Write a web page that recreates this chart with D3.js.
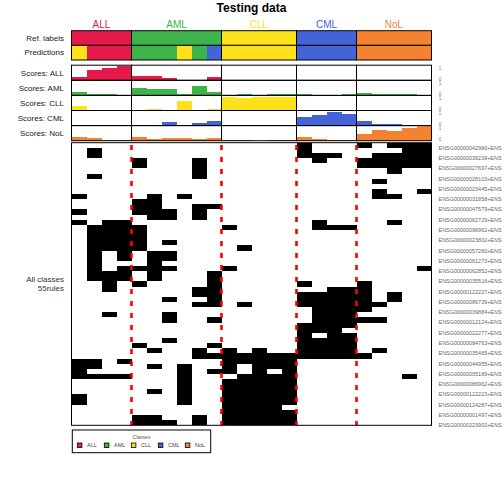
<!DOCTYPE html>
<html>
<head>
<meta charset="utf-8">
<script src="https://cdn.jsdelivr.net/npm/d3@7"></script>
<style>
  body { margin: 0; background: #fff; }
  svg text { font-family: "Liberation Sans", Arial, sans-serif; }
</style>
</head>
<body>
<div id="chart"></div>
<script>
// classes and colours
const classes = ["ALL", "AML", "CLL", "CML", "NoL"];
const classColors = ["#E6194B", "#3CB44B", "#FFE119", "#4363D8", "#F58231"];

// 24 test samples, in column order
const refLabels = ["ALL","ALL","ALL","ALL",
  "AML","AML","AML","AML","AML","AML",
  "CLL","CLL","CLL","CLL","CLL",
  "CML","CML","CML","CML",
  "NoL","NoL","NoL","NoL","NoL"];
const predictions = ["CLL","ALL","ALL","ALL",
  "AML","AML","AML","CLL","AML","CML",
  "CLL","CLL","CLL","CLL","CLL",
  "CML","CML","CML","CML",
  "NoL","NoL","NoL","NoL","NoL"];

// class scores per sample
const scoresALL = [0.2,0.67,0.8,0.96, 0.27,0.27,0.13,0,0,0.2, 0,0,0,0,0, 0,0.05,0,0, 0,0,0.05,0.05,0];
const scoresAML = [0.2,0.09,0.09,0, 0.47,0.4,0.4,0.09,0.6,0.2, 0,0.09,0,0.09,0.09, 0.09,0,0,0.09, 0.13,0.09,0.09,0.09,0];
const scoresCLL = [0.33,0,0,0, 0,0.13,0,0.6,0,0.07, 0.87,0.8,0.87,0.87,0.87, 0,0,0,0, 0,0,0,0,0];
const scoresCML = [0.07,0,0.07,0, 0,0,0.27,0,0.2,0.33, 0,0,0,0,0, 0.6,0.73,0.93,0.8, 0.33,0.13,0.13,0,0];
const scoresNoL = [0.24,0.18,0.05,0.05, 0.24,0.11,0.18,0.18,0.11,0.18, 0.05,0.05,0,0.05,0.05, 0.24,0.11,0.05,0.05, 0.44,0.71,0.64,0.84,0.98];

// rule activation: one string per rule, one char per sample (groups split by spaces)
const ruleRows = [
  "0000 000000 00000 1000 10111",
  "0100 000000 00000 1000 00011",
  "0100 000000 00000 1110 01111",
  "0000 100010 00000 0100 11111",
  "0000 100010 00000 0000 11111",
  "0000 000010 00000 0000 00100",
  "0100 000010 00000 0000 00000",
  "0000 000000 00000 0000 01000",
  "0000 000000 00000 0000 00000",
  "0000 000000 00000 0000 01001",
  "1000 010100 00000 0000 01100",
  "0000 110000 00000 0000 00000",
  "0000 110011 00000 0000 00000",
  "1000 111010 00000 0000 00000",
  "0000 011010 00000 0000 00000",
  "1011 000000 00000 0100 00100",
  "0111 100000 10000 0111 00000",
  "0111 100000 00000 0000 00000",
  "0111 100000 00000 0000 00000",
  "0111 101000 00000 0000 00000",
  "0111 100000 01000 0000 00000",
  "0101 011000 00000 0000 00000",
  "0101 011000 00000 0000 00000",
  "0100 010000 00000 0000 00000",
  "0101 111000 10000 0000 00001",
  "0111 010001 00000 0000 00000",
  "0111 010001 00000 0000 00000",
  "0010 100001 00000 1000 10000",
  "0010 000011 00000 0011 10000",
  "0000 000011 00000 1111 10100",
  "0000 001001 00000 1111 10100",
  "0000 000011 01000 1111 11000",
  "0000 000000 00000 0111 10000",
  "0010 001000 00000 0111 00000",
  "0000 001001 00000 0111 11000",
  "0000 000000 00000 1111 00000",
  "0000 000000 00000 1110 00000",
  "0000 000000 00000 1011 00000",
  "0000 001000 00000 1111 00000",
  "0000 100001 00000 1111 00000",
  "0000 010010 10100 1111 01000",
  "0000 000011 11111 1111 10000",
  "1101 000000 11111 0000 00000",
  "1100 010100 10111 0000 00000",
  "1000 000101 10101 0000 00000",
  "1111 000100 01111 0000 00010",
  "0000 000100 11111 0000 00000",
  "0000 000100 11111 0000 00000",
  "0000 010100 11111 0000 00000",
  "1000 000100 11111 0000 00000",
  "1000 000100 11111 0000 00000",
  "0000 000000 11110 0000 00000",
  "0000 000000 11111 0000 00000",
  "0000 110010 11111 0000 00000",
  "0000 111010 11111 0000 00000"
];

// row names (only every second rule is labelled)
const ruleLabels = [
  "ENSG00000042980+ENS", "ENSG00000039239+ENS", "ENSG00000027697+ENS", "ENSG00000028103+ENS",
  "ENSG00000023445+ENS", "ENSG00000031858+ENS", "ENSG00000047579+ENS", "ENSG00000062729+ENS",
  "ENSG00000096962+ENS", "ENSG00000023802+ENS", "ENSG00000057280+ENS", "ENSG00000061273+ENS",
  "ENSG00000062852+ENS", "ENSG00000035516+ENS", "ENSG00000122227+ENS", "ENSG00000086739+ENS",
  "ENSG00000039884+ENS", "ENSG00000012124+ENS", "ENSG00000022277+ENS", "ENSG00000084763+ENS",
  "ENSG00000035465+ENS", "ENSG00000044955+ENS", "ENSG00000005189+ENS", "ENSG00000086962+ENS",
  "ENSG00000122223+ENS", "ENSG00000124287+ENS", "ENSG00000001497+ENS", "ENSG00000223902+ENS"
];

const scorePanels = [
  {name: "Scores: ALL", values: scoresALL, color: classColors[0]},
  {name: "Scores: AML", values: scoresAML, color: classColors[1]},
  {name: "Scores: CLL", values: scoresCLL, color: classColors[2]},
  {name: "Scores: CML", values: scoresCML, color: classColors[3]},
  {name: "Scores: NoL", values: scoresNoL, color: classColors[4]}
];

const width = 504, height = 504;
const hmLeft = 71.5, hmRight = 431.5;
const refTop = 30.7, annH = 14.65;
const scoreTop = 65.2, scoreH = 15.1;
const hmTop = 142.7, hmBottom = 425.3;

const color = d3.scaleOrdinal().domain(classes).range(classColors);
const matrix = ruleRows.map(r => r.replace(/ /g, "").split("").map(Number));
const nSamples = refLabels.length;
const nRules = matrix.length;

const x = d3.scaleBand().domain(d3.range(nSamples)).range([hmLeft, hmRight]);
const yRow = d3.scaleLinear().domain([0, nRules]).range([hmTop, hmBottom]);

// group extents
const groups = classes.map(c => {
  const idx = d3.range(nSamples).filter(i => refLabels[i] === c);
  return {name: c, x0: x(d3.min(idx)), x1: x(d3.max(idx)) + x.bandwidth()};
});

const svg = d3.select("#chart").append("svg")
  .attr("width", width)
  .attr("height", height);

svg.append("rect").attr("width", width).attr("height", height).attr("fill", "#fff");

// title
svg.append("text")
  .attr("x", (hmLeft + hmRight) / 2)
  .attr("y", 11.8)
  .attr("text-anchor", "middle")
  .style("font-size", "12px")
  .style("font-weight", "bold")
  .text("Testing data");

// group titles
svg.selectAll(".gtitle").data(groups).enter().append("text")
  .attr("x", d => (d.x0 + d.x1) / 2)
  .attr("y", 28.3)
  .attr("text-anchor", "middle")
  .style("font-size", "10px")
  .attr("fill", d => color(d.name))
  .text(d => d.name);

// ref labels and predictions
[refLabels, predictions].forEach((row, r) => {
  const y0 = refTop + r * annH;
  svg.append("g").selectAll("rect").data(row).enter().append("rect")
    .attr("x", (d, i) => x(i))
    .attr("y", y0)
    .attr("width", x.bandwidth() + 0.3)
    .attr("height", annH)
    .attr("fill", d => color(d))
    .attr("shape-rendering", "crispEdges");
  svg.append("g").selectAll("rect").data(groups).enter().append("rect")
    .attr("x", d => d.x0)
    .attr("y", y0)
    .attr("width", d => d.x1 - d.x0)
    .attr("height", annH)
    .attr("fill", "none")
    .attr("stroke", "#000")
    .attr("stroke-width", 1);
});

const leftLabels = [
  {text: "Ref. labels", y: refTop + annH / 2},
  {text: "Predictions", y: refTop + annH * 1.5}
].concat(scorePanels.map((p, i) => ({text: p.name, y: scoreTop + scoreH * (i + 0.5)})));

svg.selectAll(".llab").data(leftLabels).enter().append("text")
  .attr("x", 64)
  .attr("y", d => d.y)
  .attr("dy", "0.35em")
  .attr("text-anchor", "end")
  .style("font-size", "8px")
  .attr("fill", "#222")
  .text(d => d.text);

// score bar panels
scorePanels.forEach((p, i) => {
  const top = scoreTop + i * scoreH;
  const y = d3.scaleLinear().domain([0, 1]).range([top + scoreH, top]);
  const g = svg.append("g");
  g.selectAll("rect").data(p.values).enter().append("rect")
    .attr("x", (d, j) => x(j))
    .attr("y", d => y(d))
    .attr("width", x.bandwidth() + 0.3)
    .attr("height", d => y(0) - y(d))
    .attr("fill", p.color)
    .attr("shape-rendering", "crispEdges");
  g.selectAll(".box").data(groups).enter().append("rect")
    .attr("x", d => d.x0)
    .attr("y", top)
    .attr("width", d => d.x1 - d.x0)
    .attr("height", scoreH)
    .attr("fill", "none")
    .attr("stroke", "#000")
    .attr("stroke-width", 1);
  // tiny axis labels on the right
  g.append("text").attr("x", 440).attr("y", y(1) + 4.5)
    .attr("text-anchor", "middle").style("font-size", "4.5px").attr("fill", "#777").text("1");
  g.append("text").attr("x", 440).attr("y", y(0) + 0.5)
    .attr("text-anchor", "middle").style("font-size", "4.5px").attr("fill", "#777").text("0");
});

// heatmap cells
const cells = [];
matrix.forEach((row, r) => row.forEach((v, c) => { if (v) cells.push({r, c}); }));
svg.append("g").selectAll("rect").data(cells).enter().append("rect")
  .attr("x", d => x(d.c))
  .attr("y", d => yRow(d.r))
  .attr("width", x.bandwidth())
  .attr("height", yRow(1) - yRow(0))
  .attr("fill", "#000")
  .attr("shape-rendering", "crispEdges");

// red dashed separators between classes
svg.append("g").selectAll("line").data(groups.slice(1)).enter().append("line")
  .attr("x1", d => d.x0).attr("x2", d => d.x0)
  .attr("y1", hmTop + 2.3).attr("y2", hmBottom)
  .attr("stroke", "#FF0000")
  .attr("stroke-width", 2.6)
  .attr("stroke-dasharray", "5 7");

svg.append("rect")
  .attr("x", hmLeft).attr("y", hmTop)
  .attr("width", hmRight - hmLeft).attr("height", hmBottom - hmTop)
  .attr("fill", "none").attr("stroke", "#000").attr("stroke-width", 1);

// row labels
svg.append("g").selectAll("text").data(ruleLabels).enter().append("text")
  .attr("x", 438.5)
  .attr("y", (d, k) => yRow(2 * k + 1))
  .attr("dy", "0.35em")
  .style("font-size", "5.45px")
  .attr("fill", "#666")
  .text(d => d);

// row title
svg.append("text")
  .attr("x", 64).attr("y", (hmTop + hmBottom) / 2 - 4.5)
  .attr("dy", "0.35em").attr("text-anchor", "end")
  .style("font-size", "8px").attr("fill", "#333")
  .text("All classes");
svg.append("text")
  .attr("x", 64).attr("y", (hmTop + hmBottom) / 2 + 4.5)
  .attr("dy", "0.35em").attr("text-anchor", "end")
  .style("font-size", "8px").attr("fill", "#333")
  .text("55rules");

// legend
const legend = svg.append("g");
legend.append("rect")
  .attr("x", 72.3).attr("y", 430)
  .attr("width", 138.4).attr("height", 22.7)
  .attr("fill", "#fff").attr("stroke", "#000").attr("stroke-width", 1);
legend.append("text")
  .attr("x", 141.5).attr("y", 437).attr("dy", "0.35em")
  .attr("text-anchor", "middle")
  .style("font-size", "5px").attr("fill", "#555")
  .text("Classes");
const items = legend.selectAll(".item").data(classes).enter().append("g")
  .attr("transform", (d, i) => "translate(" + (77.3 + i * 27) + ",445.3)");
items.append("rect")
  .attr("x", 0).attr("y", -2.3)
  .attr("width", 4.6).attr("height", 4.6)
  .attr("fill", d => color(d))
  .attr("stroke", "#000").attr("stroke-width", 0.8);
items.append("text")
  .attr("x", 9.7).attr("dy", "0.35em")
  .style("font-size", "5.5px").attr("fill", "#444")
  .text(d => d);
</script>
</body>
</html>
